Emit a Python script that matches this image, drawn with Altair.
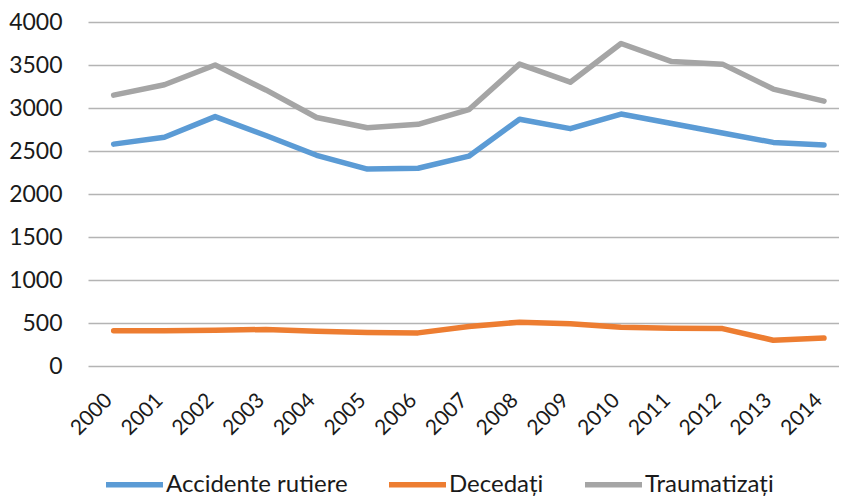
import altair as alt
import pandas as pd

years = list(range(2000, 2015))
accidente = [2580, 2660, 2900, 2680, 2450, 2290, 2300, 2440, 2870, 2760, 2930, 2820, 2710, 2600, 2570]
decedati = [410, 411, 415, 425, 405, 390, 385, 460, 510, 490, 450, 440, 435, 300, 325]
traumatizati = [3150, 3270, 3500, 3210, 2890, 2770, 2810, 2980, 3510, 3300, 3750, 3540, 3510, 3220, 3080]
series_names = ["Accidente rutiere", "Decedați", "Traumatizați"]
series_colors = ["#5B9BD5", "#ED7D31", "#A5A5A5"]
y_ticks = list(range(0, 4001, 500))

rows = []
for name, vals in zip(series_names, [accidente, decedati, traumatizati]):
    for yr, v in zip(years, vals):
        rows.append({"An": yr, "Valoare": v, "Serie": name})
df = pd.DataFrame(rows)

FONT = "Lato"

chart = alt.Chart(df).mark_line(strokeWidth=5.5, strokeCap="round", strokeJoin="round").encode(
    x=alt.X("An:Q",
            scale=alt.Scale(domain=[1999.494, 2014.296], nice=False, zero=False),
            axis=alt.Axis(values=years, format="d", labelAngle=-45, labelAlign="right",
                          labelBaseline="middle", labelPadding=31, labelOffset=-5,
                          grid=False, domain=False, ticks=False, labelFontSize=21,
                          labelFont=FONT, labelColor="#1a1a1a", title=None, labelFlush=False)),
    y=alt.Y("Valoare:Q",
            scale=alt.Scale(domain=[0, 4000], nice=False),
            axis=alt.Axis(values=y_ticks, format="d", grid=True, gridColor="#B4B4B4", gridWidth=1.3,
                          domain=False, ticks=False, labelPadding=26, labelFontSize=23,
                          labelFont=FONT, labelColor="#1a1a1a", title=None)),
    color=alt.Color("Serie:N",
                    scale=alt.Scale(domain=series_names, range=series_colors),
                    legend=alt.Legend(orient="none", legendX=15, legendY=431, direction="horizontal",
                                      title=None, symbolType="stroke", symbolSize=3249,
                                      symbolStrokeWidth=5.5, labelFontSize=24, labelFont=FONT,
                                      labelColor="#1a1a1a", labelOffset=0, columnPadding=30,
                                      labelLimit=300)),
).properties(
    width=751, height=344,
    padding={"left": 80, "top": 14, "right": 0, "bottom": 130},
    autosize=alt.AutoSizeParams(type="none"),
).configure_view(stroke=None)

chart.save("out.html", embed_options={"renderer": "svg", "actions": False})
